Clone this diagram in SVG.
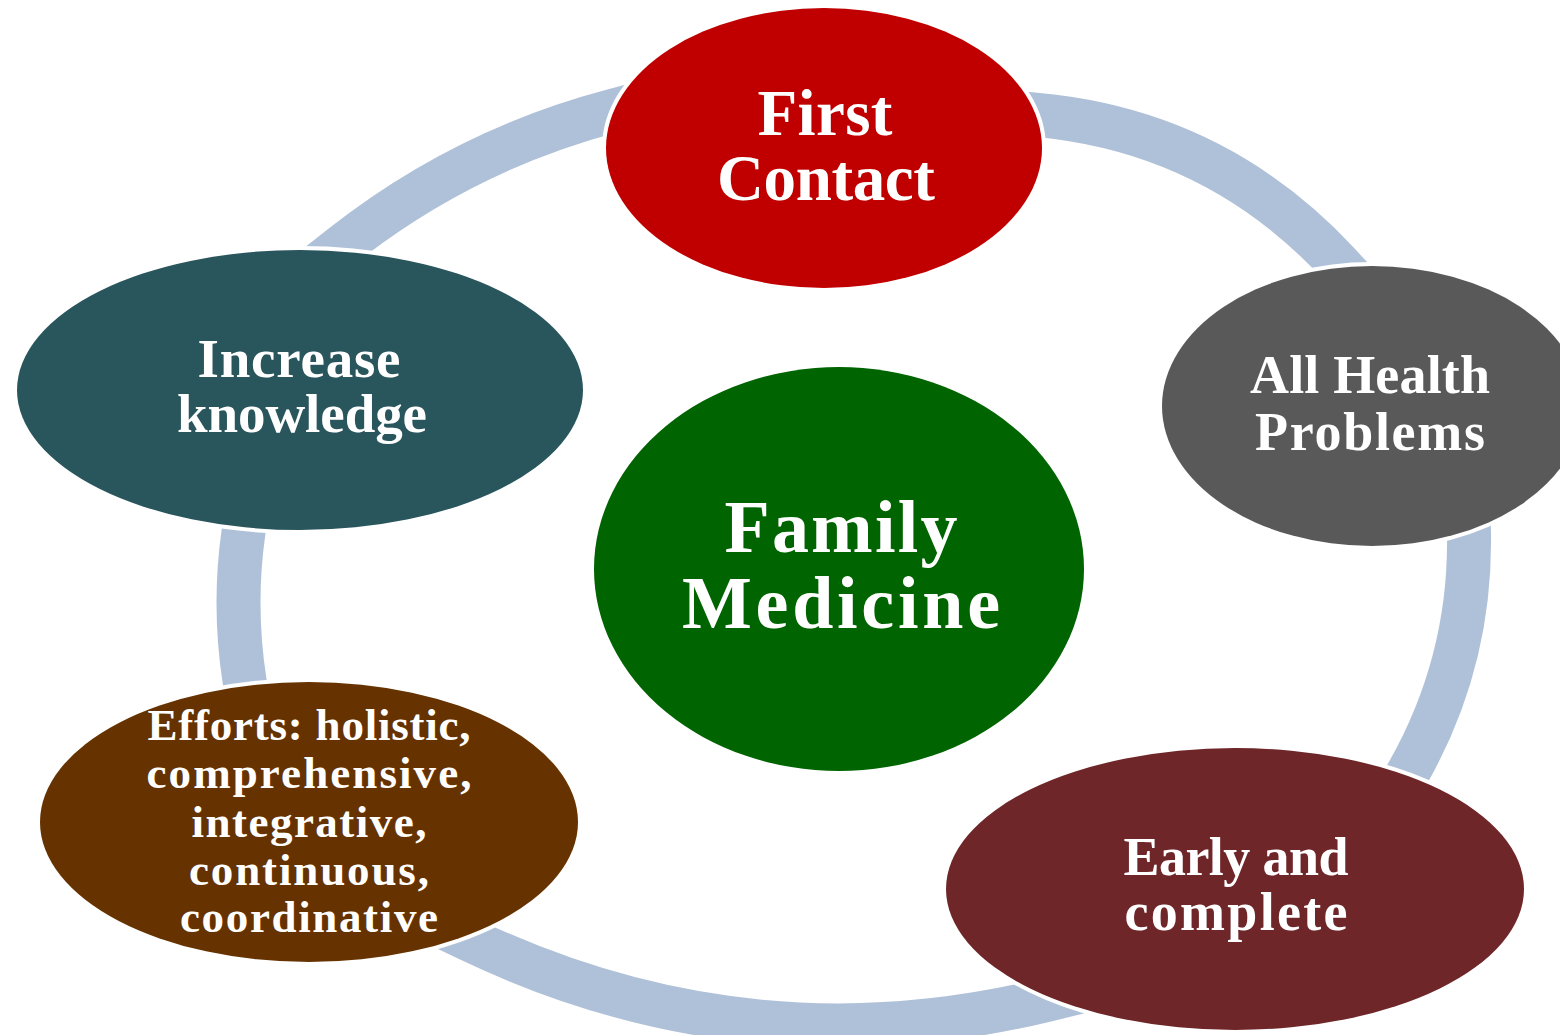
<svg xmlns="http://www.w3.org/2000/svg" width="1560" height="1035" viewBox="0 0 1560 1035">
<style>
.ring{fill:none;stroke:#AFC1D9;stroke-width:44;stroke-linecap:butt;stroke-linejoin:round}
.node{stroke:#FFFFFF;stroke-width:8;paint-order:stroke}
.lbl{font-family:"Liberation Serif","Times New Roman",serif;font-weight:bold;fill:#FFFFFF;text-anchor:middle}
</style>
<rect width="1560" height="1035" fill="#FFFFFF"/>
<g id="connectors">
<path class="ring" d="M310.6,270.8 L342,246 Q463,150.5 612,111 L645.8,102"/>
<path class="ring" d="M1008,112.2 L1038,115 Q1216,131.6 1338,263 L1361.8,288.7"/>
<path class="ring" d="M1468.5,504 L1469,534 Q1471,660.6 1409,771 L1394.3,797.2"/>
<path class="ring" d="M1104.3,985.9 L1046,1000 Q748,1072 470,940 L424.8,918.5"/>
<path class="ring" d="M247.7,502.3 L243.5,532 Q233,606 244.5,680.5 L249.1,710.1"/>
</g>
<g id="node-first-contact">
<ellipse class="node" cx="824" cy="148" rx="218" ry="140" fill="#C00000"/>
<text class="lbl" font-size="65"><tspan x="825" y="135" textLength="135" lengthAdjust="spacing">First</tspan><tspan x="826" y="200" textLength="218" lengthAdjust="spacing">Contact</tspan></text>
</g>
<g id="node-all-health">
<ellipse class="node" cx="1372" cy="406" rx="210" ry="140" fill="#595959"/>
<text class="lbl" font-size="54"><tspan x="1370" y="393" textLength="240" lengthAdjust="spacing">All Health</tspan><tspan x="1370" y="450" textLength="230" lengthAdjust="spacing">Problems</tspan></text>
</g>
<g id="node-early">
<ellipse class="node" cx="1235" cy="889" rx="289" ry="141" fill="#6E2629"/>
<text class="lbl" font-size="54"><tspan x="1236" y="875" textLength="225" lengthAdjust="spacing">Early and</tspan><tspan x="1236" y="930" textLength="223" lengthAdjust="spacing">complete</tspan></text>
</g>
<g id="node-efforts">
<ellipse class="node" cx="309" cy="822" rx="269" ry="140" fill="#663300"/>
<text class="lbl" font-size="45"><tspan x="309" y="740" textLength="323" lengthAdjust="spacing">Efforts: holistic,</tspan><tspan x="309" y="788" textLength="325" lengthAdjust="spacing">comprehensive,</tspan><tspan x="309" y="837" textLength="235" lengthAdjust="spacing">integrative,</tspan><tspan x="309" y="885" textLength="240" lengthAdjust="spacing">continuous,</tspan><tspan x="309" y="932" textLength="258" lengthAdjust="spacing">coordinative</tspan></text>
</g>
<g id="node-increase">
<ellipse class="node" cx="300" cy="390" rx="283" ry="140" fill="#29555C"/>
<text class="lbl" font-size="55"><tspan x="299" y="377" textLength="203" lengthAdjust="spacing">Increase</tspan><tspan x="302" y="432" textLength="250" lengthAdjust="spacing">knowledge</tspan></text>
</g>
<g id="node-family-medicine">
<ellipse class="node" cx="839" cy="569" rx="245" ry="202" fill="#006400"/>
<text class="lbl" font-size="74"><tspan x="841" y="552" textLength="233" lengthAdjust="spacing">Family</tspan><tspan x="841" y="628" textLength="318" lengthAdjust="spacing">Medicine</tspan></text>
</g>
</svg>
